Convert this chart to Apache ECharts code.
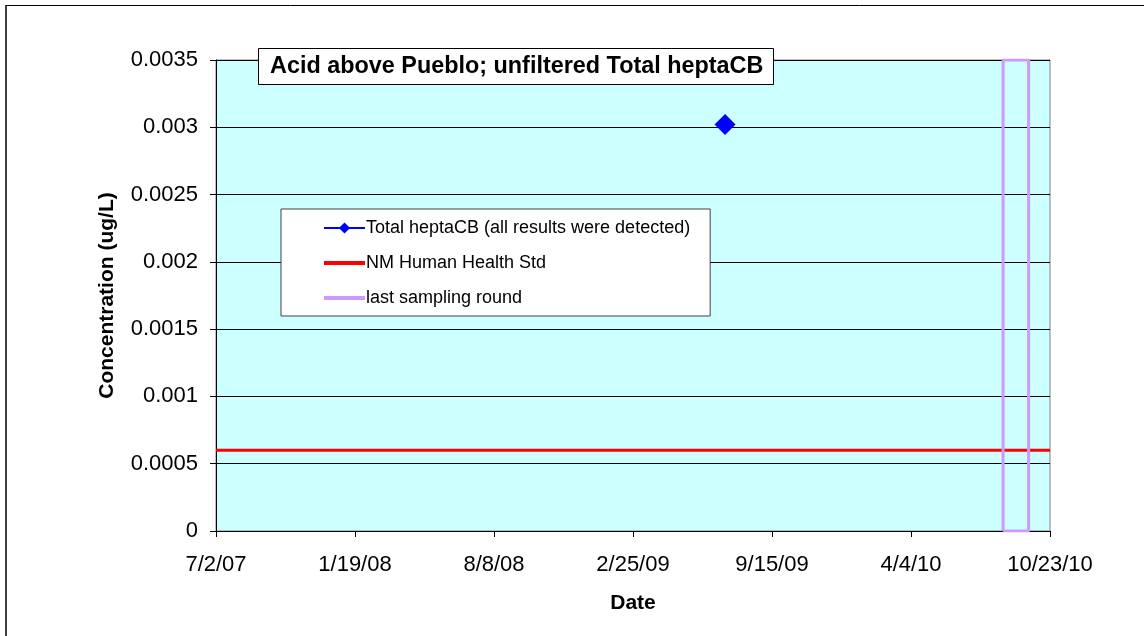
<!DOCTYPE html>
<html><head><meta charset="utf-8">
<script src="https://cdn.jsdelivr.net/npm/echarts@6/dist/echarts.min.js"></script>
<style>html,body{margin:0;padding:0;background:#fff}#c{width:1144px;height:636px}</style>
</head><body><div id="c"></div>
<script>
// ---- data ----
const axisStart = '2007-07-02';
const axisEnd = '2010-10-23';
const heptaDates = ['2009-07-09'];
const heptaValues = [0.00302];
const stdValue = 0.0006;
const lastRoundDates = ['2010-08-16', '2010-09-22'];
const yMax = 0.0035;
const yInterval = 0.0005;
const xTickDays = 201.5;

const DAY = 86400000;
function ms(s){const p=s.split('-').map(Number);return Date.UTC(p[0],p[1]-1,p[2]);}
const t0 = ms(axisStart);
function dayOf(s){return (ms(s)-t0)/DAY;}
const xMax = dayOf(axisEnd);
function fmt(d){const dt=new Date(t0+Math.floor(d+1e-6)*DAY);return (dt.getUTCMonth()+1)+'/'+dt.getUTCDate()+'/'+String(dt.getUTCFullYear()).slice(2);}

const heptaData = heptaDates.map((d,i)=>[dayOf(d),heptaValues[i]]);
const stdData = [[0,stdValue],[xMax,stdValue]];
const a = dayOf(lastRoundDates[0]), b = dayOf(lastRoundDates[1]);
const roundData = [[a,0],[a,yMax],[b,yMax],[b,0],[a,0]];

const font = 'Arial, "Liberation Sans", sans-serif';
const chart = echarts.init(document.getElementById('c'));
chart.setOption({
  animation:false,
  backgroundColor:'#fff',
  textStyle:{fontFamily:font},
  title:{text:'Acid above Pueblo; unfiltered Total heptaCB',left:258,top:48,padding:[7,10,7,12],
    borderColor:'#000',borderWidth:1,backgroundColor:'#fff',
    textStyle:{fontSize:23.4,fontWeight:'bold',color:'#000',fontFamily:font}},
  legend:{left:281,top:209,orient:'vertical',padding:[10,20,9,41],itemGap:17,
    backgroundColor:'#fff',borderColor:'#404040',borderWidth:1,itemWidth:41,itemHeight:14,
    textStyle:{fontSize:18,color:'#000',fontFamily:font,padding:[0,0,0,-4]},
    data:[
      {name:'Total heptaCB (all results were detected)'},
      {name:'NM Human Health Std',itemStyle:{opacity:0},lineStyle:{width:4}},
      {name:'last sampling round',itemStyle:{opacity:0},lineStyle:{width:4}}
    ]},
  grid:{left:216,top:60,right:94,bottom:105,show:true,backgroundColor:'#ccffff',borderColor:'#808080',borderWidth:1},
  xAxis:{type:'value',min:0,max:xMax,interval:xTickDays,
    name:'Date',nameLocation:'middle',nameGap:62,
    nameTextStyle:{fontSize:21,fontWeight:'bold',color:'#000',fontFamily:font},
    axisLine:{show:true,lineStyle:{color:'#000',width:1}},
    axisTick:{show:true,length:6,lineStyle:{color:'#000'}},
    axisLabel:{fontSize:22,color:'#000',margin:23,formatter:v=>fmt(v),showMaxLabel:true,showMinLabel:true},
    splitLine:{show:false}},
  yAxis:{type:'value',min:0,max:yMax,interval:yInterval,
    name:'Concentration (ug/L)',nameLocation:'middle',nameGap:98,
    nameTextStyle:{fontSize:21,fontWeight:'bold',color:'#000',fontFamily:font},
    axisLine:{show:true,lineStyle:{color:'#000',width:1}},
    axisTick:{show:true,length:6,lineStyle:{color:'#000'}},
    axisLabel:{fontSize:22,color:'#000',margin:18,formatter:v=>String(+v.toFixed(6))},
    splitLine:{show:true,lineStyle:{color:'#000',width:1}}},
  series:[
    {name:'Total heptaCB (all results were detected)',type:'line',data:heptaData,symbol:'diamond',symbolSize:21,
      itemStyle:{color:'#0000ff'},lineStyle:{color:'#0000ff',width:1},z:5},
    {name:'NM Human Health Std',type:'line',data:stdData,symbol:'none',lineStyle:{color:'#ff0000',width:3},itemStyle:{color:'#ff0000'},z:3},
    {name:'last sampling round',type:'line',data:roundData,symbol:'none',lineStyle:{color:'#cc99ff',width:3},itemStyle:{color:'#cc99ff'},z:4}
  ],
  graphic:[
    {type:'line',shape:{x1:6,y1:5,x2:6,y2:636},style:{stroke:'#404040',lineWidth:2},silent:true},
    {type:'line',shape:{x1:6,y1:5.5,x2:1144,y2:5.5},style:{stroke:'#000',lineWidth:1},silent:true}
  ]
});
</script></body></html>
